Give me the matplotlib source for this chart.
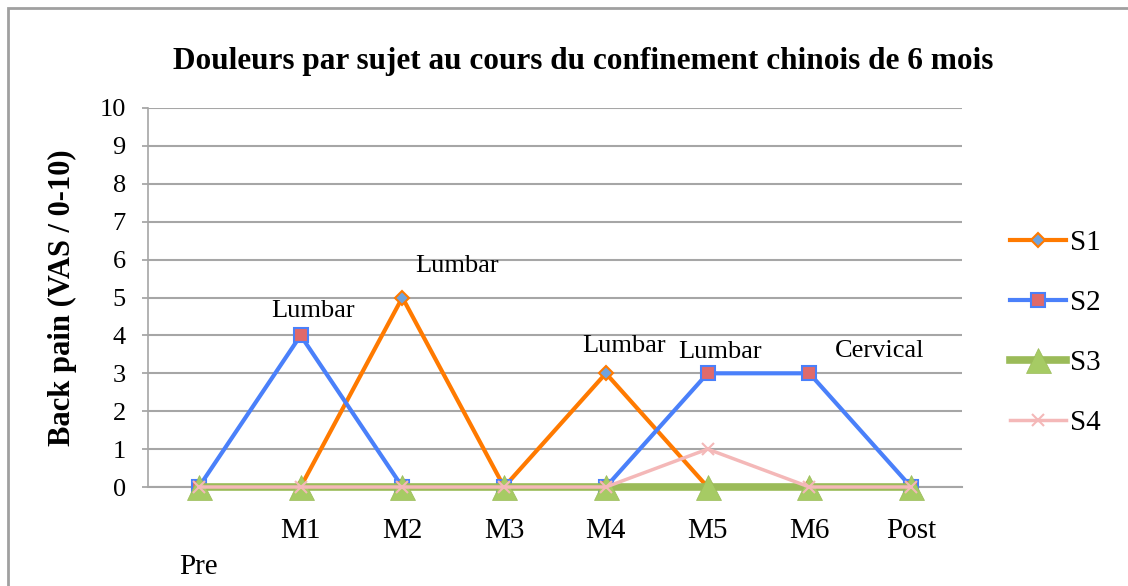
import matplotlib
matplotlib.use("Agg")
import matplotlib.pyplot as plt
from matplotlib.patches import Rectangle

plt.rcParams['font.family'] = ['Liberation Serif', 'DejaVu Serif']

timepoints = ['Pre', 'M1', 'M2', 'M3', 'M4', 'M5', 'M6', 'Post']
s1 = [0, 0, 5, 0, 3, 0, 0, 0]
s2 = [0, 4, 0, 0, 0, 3, 3, 0]
s3 = [0, 0, 0, 0, 0, 0, 0, 0]
s4 = [0, 0, 0, 0, 0, 1, 0, 0]

# (series values, index, label, pixel offset of text)
notes = [(s2, 1, 'Lumbar', (12, 24)),
         (s1, 2, 'Lumbar', (55, 31)),
         (s1, 4, 'Lumbar', (18, 27)),
         (s2, 5, 'Lumbar', (12, 21)),
         (s2, 6, 'Cervical', (70, 22))]

fig = plt.figure(figsize=(11.28, 5.86), dpi=100)
ax = fig.add_axes([148 / 1128, 99 / 586, 814 / 1128, 379 / 586])

x = list(range(len(timepoints)))
ax.plot(x, s1, color='#FF7A00', lw=3, marker='D', ms=7, mfc='#6FA3DE',
        mec='#FF7A00', mew=1.5, label='S1', zorder=3, clip_on=False)
ax.plot(x, s2, color='#4A80FA', lw=3, marker='s', ms=10, mfc='#E06A6A',
        mec='#4A80FA', mew=1.5, label='S2', zorder=4, clip_on=False)
ax.plot(x, s3, color='#9BBB59', lw=5.5, marker='^', ms=18, mfc='#A6CB64',
        mec='#9BBB59', mew=0.5, label='S3', zorder=5, clip_on=False)
ax.plot(x, s4, color='#F4B8B8', lw=2.5, marker='x', ms=9, mec='#F4B8B8',
        mew=1.5, label='S4', zorder=6, clip_on=False)

for vals, i, txt, off in notes:
    ax.annotate(txt, (i, vals[i]), xytext=off, textcoords='offset pixels',
                ha='center', va='center', fontsize=19, zorder=7)

ax.set_xlim(-0.5, 7.5)
ax.set_ylim(0, 10)
ax.set_yticks(range(0, 11))
ax.set_xticks(x)
ax.set_xticklabels(timepoints)
ax.tick_params(axis='x', length=0, labelsize=21, pad=22)
ax.tick_params(axis='y', length=4, color='#A0A0A0', width=1.2, labelsize=19, pad=12)
ax.xaxis.get_major_ticks()[0].set_pad(48)

ax.grid(axis='y', color='#A6A6A6', lw=1.5)
ax.set_axisbelow(True)
for side in ['top', 'right']:
    ax.spines[side].set_visible(False)
ax.spines['left'].set_color('#A6A6A6')
ax.spines['bottom'].set_color('#A6A6A6')
ax.spines['left'].set_linewidth(1.2)
ax.spines['bottom'].set_linewidth(1.5)

ax.set_ylabel('Back pain (VAS / 0-10)', fontsize=22, fontweight='bold', labelpad=16)

fig.text(583 / 1128, 1 - 62 / 586, 'Douleurs par sujet au cours du confinement chinois de 6 mois',
         ha='center', va='center', fontsize=22.5, fontweight='bold')

fig.legend(loc='center left', bbox_to_anchor=(984 / 1128, 0.432), frameon=False,
           fontsize=21, labelspacing=1.15, handlelength=1.9, handletextpad=0.15)

fig.patches.append(Rectangle((8 / 1128, -0.05), 1.1, 1.05 - 8 / 586, transform=fig.transFigure,
                             fill=False, ec='#A0A0A0', lw=2))

fig.savefig('out.png', dpi=100)
